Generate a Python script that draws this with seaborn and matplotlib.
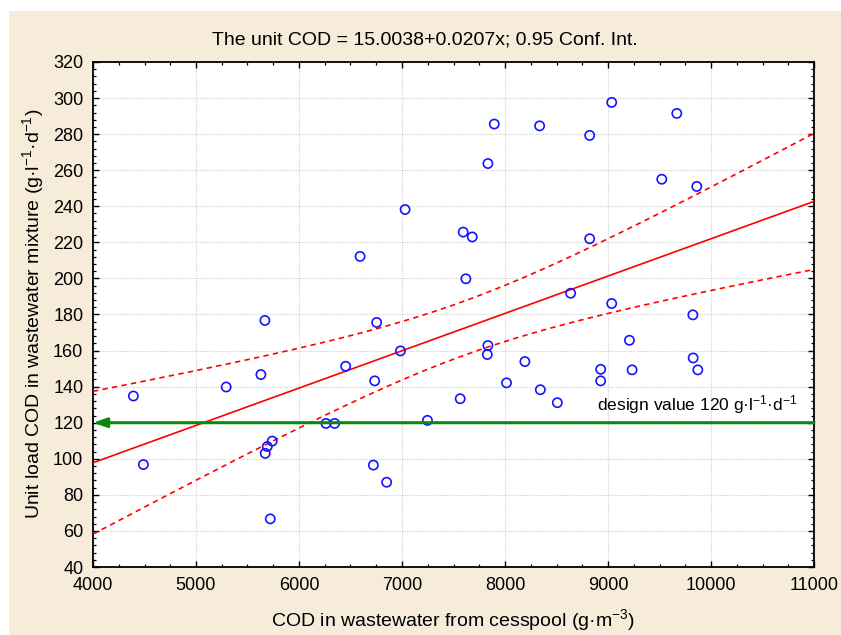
import numpy as np
import pandas as pd
import matplotlib
matplotlib.use("Agg")
import matplotlib.pyplot as plt
import seaborn as sns
from matplotlib.ticker import MultipleLocator
from matplotlib.patches import Rectangle

# ---------------- data ----------------
cod_cesspool = [4392, 4489, 5293, 5630, 5669, 5672, 5692, 5740, 5721, 6262,
                6346, 6453, 6593, 6722, 6735, 6754, 6851, 6985, 7030, 7247,
                7565, 7594, 7620, 7682, 7834, 7834, 7828, 7896, 8015, 8193,
                8343, 8336, 8508, 8637, 8822, 8822, 8929, 8929, 9036, 9036,
                9208, 9234, 9522, 9668, 9824, 9827, 9862, 9872]
unit_cod = [134.8, 96.8, 139.8, 146.7, 176.7, 103.0, 106.8, 109.8, 66.7, 119.6,
            119.6, 151.3, 212.2, 96.5, 143.2, 175.6, 87.0, 159.8, 238.2, 121.3,
            133.3, 225.7, 199.8, 223.0, 263.7, 162.8, 157.8, 285.6, 142.1, 153.9,
            138.3, 284.6, 131.1, 191.8, 279.3, 222.0, 149.6, 143.2, 297.6, 186.1,
            165.7, 149.3, 255.0, 291.5, 179.8, 155.9, 251.0, 149.3]
intercept = 15.0038
slope = 0.0207
t_crit = 2.0129  # t(0.975, n-2) for 0.95 conf. int.
design_value = 120
x_ticks = [4000, 5000, 6000, 7000, 8000, 9000, 10000, 11000]
y_ticks = [40, 60, 80, 100, 120, 140, 160, 180, 200, 220, 240, 260, 280, 300, 320]

title = "The unit COD = 15.0038+0.0207x; 0.95 Conf. Int."
xlabel = "COD in wastewater from cesspool (g·m$^{-3}$)"
ylabel = "Unit load COD in wastewater mixture (g·l$^{-1}$·d$^{-1}$)"
design_label = "design value 120 g·l$^{-1}$·d$^{-1}$"

# ---------------- style ----------------
sns.set_style("white")
plt.rcParams["font.family"] = ["Liberation Sans", "DejaVu Sans"]
plt.rcParams["mathtext.fontset"] = "custom"
plt.rcParams["mathtext.rm"] = "Liberation Sans"
plt.rcParams["mathtext.it"] = "Liberation Sans:italic"
plt.rcParams["mathtext.default"] = "regular"
plt.rcParams["text.color"] = "black"
FS = 14
TFS = 13
DFS = 12.5
BEIGE = "#F7ECD9"

df = pd.DataFrame({"x": cod_cesspool, "y": unit_cod})
xarr = df["x"].to_numpy(float)
yarr = df["y"].to_numpy(float)
n = len(xarr)
resid = yarr - (intercept + slope * xarr)
s = np.sqrt(np.sum(resid ** 2) / (n - 2))
xbar = xarr.mean()
sxx = np.sum((xarr - xbar) ** 2)

xs = np.linspace(x_ticks[0], x_ticks[-1], 200)
fit = intercept + slope * xs
hw = t_crit * s * np.sqrt(1.0 / n + (xs - xbar) ** 2 / sxx)
lines = pd.DataFrame({"x": xs, "fit": fit, "lo": fit - hw, "hi": fit + hw})

fig = plt.figure(figsize=(8.41, 6.35), dpi=100, facecolor="white")
fig.patches.append(Rectangle((9 / 841, 0), 1, 1 - 11 / 635, transform=fig.transFigure,
                             facecolor=BEIGE, edgecolor="none", zorder=-10))
ax = fig.add_axes([93 / 841, 1 - 567 / 635, (814 - 93) / 841, (567 - 62) / 635])
ax.set_zorder(2)
ax.set_facecolor("white")

sns.lineplot(data=lines, x="x", y="fit", color="#ff0000", lw=1.2, ax=ax, zorder=3)
sns.lineplot(data=lines, x="x", y="hi", color="#ff0000", lw=1.2, ax=ax, zorder=3,
             linestyle=(0, (3.2, 2.6)))
sns.lineplot(data=lines, x="x", y="lo", color="#ff0000", lw=1.2, ax=ax, zorder=3,
             linestyle=(0, (3.2, 2.6)))
sns.scatterplot(data=df, x="x", y="y", ax=ax, marker="o", s=44,
                facecolors="none", edgecolor="#1414ff", linewidth=1.2, zorder=4)

ax.annotate("", xy=(x_ticks[0], design_value), xytext=(x_ticks[-1], design_value),
            arrowprops=dict(arrowstyle="-|>,head_length=0.8,head_width=0.28",
                            color="#0a8a0a", lw=2.2, shrinkA=0, shrinkB=0),
            zorder=5)
ax.text(10845, 126.8, design_label, ha="right", va="baseline", fontsize=DFS, color="black")

ax.set_xlim(x_ticks[0], x_ticks[-1])
ax.set_ylim(y_ticks[0], y_ticks[-1])
ax.set_xticks(x_ticks)
ax.set_yticks(y_ticks)
ax.xaxis.set_minor_locator(MultipleLocator(250))
ax.yaxis.set_minor_locator(MultipleLocator(4))
ax.tick_params(which="both", direction="in", top=True, right=True, bottom=True, left=True,
               colors="black", labelsize=TFS)
ax.tick_params(which="major", length=4, width=1.0, pad=7)
ax.tick_params(which="minor", length=2.2, width=0.9)
ax.grid(True, which="major", color="#d2d2d2", linestyle=(0, (1, 1)), linewidth=0.8)
ax.set_axisbelow(True)
for sp in ax.spines.values():
    sp.set_visible(True)
    sp.set_color("black")
    sp.set_linewidth(1.3)
ax.set_xlabel("")
ax.set_ylabel("")

fig.text(425 / 841, 1 - 40 / 635, title, ha="center", va="center", fontsize=FS)
fig.text(453 / 841, 1 - 620 / 635, xlabel, ha="center", va="center", fontsize=FS)
fig.text(33 / 841, 1 - 314 / 635, ylabel, ha="center", va="center", rotation=90, fontsize=FS)

fig.savefig("out.png", dpi=100, facecolor="white")
